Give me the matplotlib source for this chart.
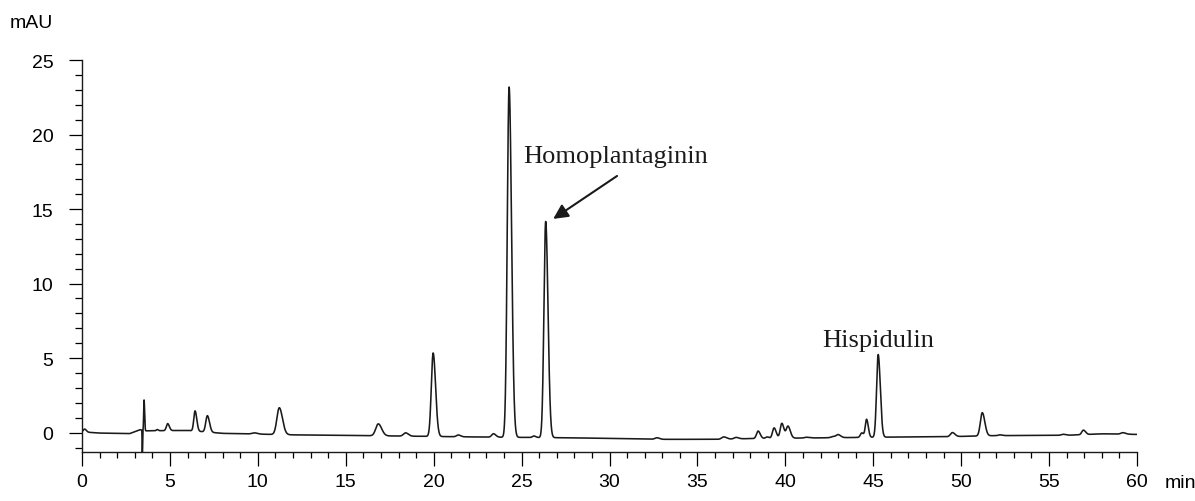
import numpy as np
import matplotlib
matplotlib.use("Agg")
import matplotlib.pyplot as plt
from matplotlib.ticker import MultipleLocator

# baseline drift (min, mAU)
base_t = [0, 1.0, 2.7, 3.3, 3.6, 6.0, 8.0, 10.0, 12.0, 16.0, 19.5, 23.0, 28.0,
          33.0, 36.0, 38.0, 42.0, 46.0, 49.0, 52.0, 56.0, 58.0, 60.0]
base_y = [0.05, -0.03, -0.07, 0.2, 0.12, 0.15, -0.05, -0.1, -0.15, -0.2, -0.25, -0.3, -0.35,
          -0.45, -0.45, -0.4, -0.35, -0.3, -0.28, -0.2, -0.18, -0.08, -0.12]

# peak table: retention time (min), height above baseline (mAU), width (min)
peak_rt = [0.15, 3.43, 3.53, 4.27, 4.87, 6.43, 7.13, 9.8, 11.22, 16.85, 18.4, 19.97,
           21.4, 23.4, 24.29, 25.7, 26.37, 32.7, 36.5, 37.2, 38.45, 38.96, 39.36,
           39.8, 40.15, 41.2, 42.7, 43.0, 44.35, 44.62, 45.28, 49.5, 51.2, 52.2,
           55.8, 56.95, 59.2]
peak_h = [0.2, -1.9, 2.05, 0.08, 0.47, 1.35, 1.1, 0.08, 1.8, 0.8, 0.22, 5.6,
          0.12, 0.23, 23.5, 0.1, 14.5, 0.1, 0.15, 0.1, 0.5, 0.1, 0.7,
          1.0, 0.8, 0.05, 0.08, 0.2, 0.3, 1.2, 5.55, 0.27, 1.56, 0.05,
          0.07, 0.3, 0.1]
peak_w = [0.08, 0.012, 0.025, 0.05, 0.08, 0.08, 0.1, 0.15, 0.15, 0.16, 0.13, 0.115,
          0.11, 0.11, 0.115, 0.09, 0.11, 0.12, 0.13, 0.12, 0.1, 0.09, 0.1,
          0.1, 0.11, 0.12, 0.12, 0.12, 0.09, 0.08, 0.1, 0.12, 0.12, 0.1,
          0.12, 0.1, 0.13]

t = np.arange(0, 60.0001, 0.005)
signal = np.interp(t, base_t, base_y)
for rt, h, w in zip(peak_rt, peak_h, peak_w):
    s = np.where(t < rt, w * 0.9, w * 1.2)
    signal += h * np.exp(-0.5 * ((t - rt) / s) ** 2)

fig = plt.figure(figsize=(11.95, 5.02), dpi=100)
ax = fig.add_axes([82 / 1195, 49 / 502, 1055 / 1195, 392 / 502])
ax.plot(t, signal, color="#1a1a1a", lw=1.15)

ax.set_xlim(0, 60)
ax.set_ylim(-1.3, 25)
ax.spines["top"].set_visible(False)
ax.spines["right"].set_visible(False)
for sp in ("left", "bottom"):
    ax.spines[sp].set_linewidth(1.0)
    ax.spines[sp].set_color("#1a1a1a")

ax.xaxis.set_major_locator(MultipleLocator(5))
ax.xaxis.set_minor_locator(MultipleLocator(1))
ax.yaxis.set_major_locator(MultipleLocator(5))
ax.yaxis.set_minor_locator(MultipleLocator(1))
ax.tick_params(axis="x", which="major", length=10, width=0.9, pad=5, labelsize=14)
ax.tick_params(axis="x", which="minor", length=4.5, width=0.9)
ax.tick_params(axis="y", which="major", length=9.5, width=0.9, pad=11, labelsize=14)
ax.tick_params(axis="y", which="minor", length=5, width=0.9)
for lab in ax.get_xticklabels() + ax.get_yticklabels():
    lab.set_fontfamily("Liberation Sans")

fig.text(10 / 1195, 1 - 24 / 502, "mAU", ha="left", va="center",
         fontsize=14, family="Liberation Sans")
fig.text(1165 / 1195, 14 / 502, "min", ha="left", va="baseline",
         fontsize=14, family="Liberation Sans")

ax.text(25.08, 18.16, "Homoplantaginin", ha="left", va="baseline",
        fontsize=19, family="Liberation Serif", color="#1a1a1a")
ax.annotate("", xy=(26.8, 14.34), xytext=(30.43, 17.22),
            arrowprops=dict(arrowstyle="-|>", mutation_scale=22, lw=1.5,
                            color="#1a1a1a", shrinkA=0, shrinkB=0))
ax.text(42.1, 5.83, "Hispidulin", ha="left", va="baseline",
        fontsize=19, family="Liberation Serif", color="#1a1a1a")

fig.savefig("out.png", dpi=100)
